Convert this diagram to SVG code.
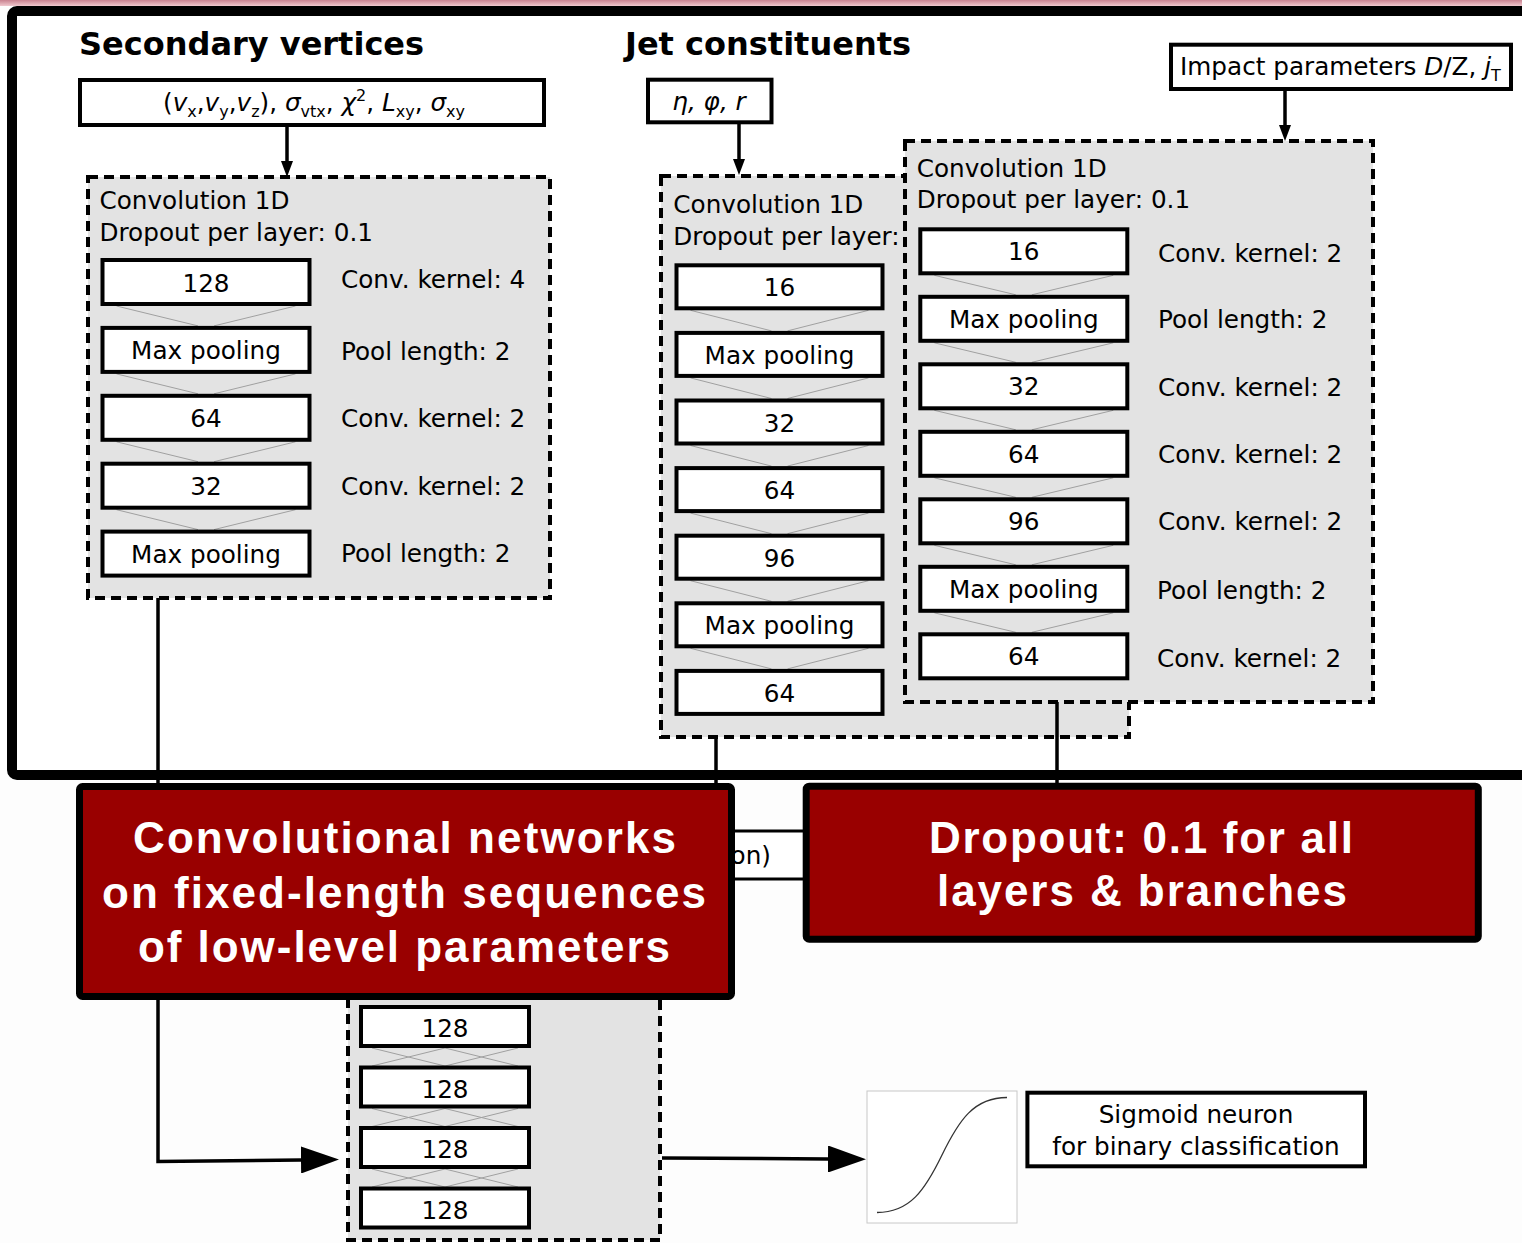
<svg xmlns="http://www.w3.org/2000/svg" width="1522" height="1243" viewBox="0 0 1522 1243">
<defs>
<linearGradient id="pink" x1="0" y1="0" x2="0" y2="1"><stop offset="0" stop-color="#c98290"/><stop offset="1" stop-color="#f0c8ce"/></linearGradient>
<marker id="ahS" markerUnits="userSpaceOnUse" markerWidth="16" markerHeight="12" refX="0" refY="6" orient="auto"><path d="M0,0 L16,6 L0,12 z" fill="#000"/></marker>
<marker id="ahL" markerUnits="userSpaceOnUse" markerWidth="38" markerHeight="27" refX="0" refY="13.5" orient="auto"><path d="M0,0 L38,13.5 L0,27 z" fill="#000"/></marker>
<style>
.t{font-family:"DejaVu Sans",sans-serif;font-size:24.7px;fill:#000}
.c{text-anchor:middle}
.ttl{font-family:"DejaVu Sans",sans-serif;font-weight:bold;font-size:32px;fill:#000}
.box{fill:#fff;stroke:#000;stroke-width:4}
.cont{fill:#e3e3e3;stroke:#000;stroke-width:4;stroke-dasharray:10 6}
.vl{stroke:#a0a0a0;stroke-width:1;fill:none}
.conn{stroke:#000;stroke-width:3.5;fill:none}
.red{fill:#990000;stroke:#000;stroke-width:7}
.rt{font-family:"Liberation Sans",Arial,sans-serif;font-weight:bold;font-size:44px;fill:#fff;text-anchor:middle}
.it{font-style:italic}
</style>
</defs>
<rect x="0" y="0" width="1522" height="1243" fill="#fdfdfd"/>
<rect x="0" y="0" width="1522" height="6" fill="url(#pink)"/>
<g id="frame"><rect x="12" y="11" width="1600" height="764" rx="5" fill="#fff" stroke="#000" stroke-width="10"/></g>

<g id="titles">
<text class="ttl" x="79" y="55">Secondary vertices</text>
<text class="ttl" x="625" y="55">Jet constituents</text>
</g>

<g id="sv-input"><rect class="box" x="80" y="80" width="464" height="45"/>
<text class="t c" x="314" y="111">(<tspan class="it">v</tspan><tspan font-size="16" dy="6">x</tspan><tspan dy="-6">,</tspan><tspan class="it">v</tspan><tspan font-size="16" dy="6">y</tspan><tspan dy="-6">,</tspan><tspan class="it">v</tspan><tspan font-size="16" dy="6">z</tspan><tspan dy="-6">), </tspan><tspan class="it">σ</tspan><tspan font-size="16" dy="6">vtx</tspan><tspan dy="-6">, </tspan><tspan class="it">χ</tspan><tspan font-size="16" dy="-10">2</tspan><tspan dy="10">, </tspan><tspan class="it">L</tspan><tspan font-size="16" dy="6">xy</tspan><tspan dy="-6">, </tspan><tspan class="it">σ</tspan><tspan font-size="16" dy="6">xy</tspan></text></g>

<g id="jet-input"><rect class="box" x="648" y="79.7" width="123.5" height="42.6"/>
<text class="t c it" x="709" y="110">η, φ, r</text></g>

<g id="ip-input"><rect class="box" x="1171" y="44.7" width="340" height="44.3"/>
<text class="t" x="1180" y="75">Impact parameters <tspan class="it">D</tspan>/Z, <tspan class="it">j</tspan><tspan font-size="16" dy="6">T</tspan></text></g>

<!-- Secondary vertices conv block -->
<g id="sv-conv">
<rect class="cont" x="88" y="177" width="462" height="421"/>
<text class="t" x="99.5" y="209">Convolution 1D</text>
<text class="t" x="99.5" y="241">Dropout per layer: 0.1</text>
<path class="vl" d="M116.5,306 L198,325.9 M295.5,306 L214,325.9 M116.5,373.9 L198,393.8 M295.5,373.9 L214,393.8 M116.5,441.8 L198,461.7 M295.5,441.8 L214,461.7 M116.5,509.7 L198,529.6 M295.5,509.7 L214,529.6"/>
<g id="sv-l1"><rect class="box" x="102.5" y="260" width="207" height="44"/><text class="t c" x="206" y="291.5">128</text></g>
<g id="sv-l2"><rect class="box" x="102.5" y="327.9" width="207" height="44"/><text class="t c" x="206" y="359.4">Max pooling</text></g>
<g id="sv-l3"><rect class="box" x="102.5" y="395.8" width="207" height="44"/><text class="t c" x="206" y="427.3">64</text></g>
<g id="sv-l4"><rect class="box" x="102.5" y="463.7" width="207" height="44"/><text class="t c" x="206" y="495.2">32</text></g>
<g id="sv-l5"><rect class="box" x="102.5" y="531.6" width="207" height="44"/><text class="t c" x="206" y="563.1">Max pooling</text></g>
<text class="t" x="341" y="288.3">Conv. kernel: 4</text>
<text class="t" x="341" y="360">Pool length: 2</text>
<text class="t" x="341" y="426.7">Conv. kernel: 2</text>
<text class="t" x="341" y="495">Conv. kernel: 2</text>
<text class="t" x="341" y="561.7">Pool length: 2</text>
</g>

<!-- Jet constituents conv block -->
<g id="jet-conv">
<rect class="cont" x="661" y="176" width="468" height="561"/>
<text class="t" x="673.3" y="213.3">Convolution 1D</text>
<text class="t" x="673.3" y="245">Dropout per layer:</text>
<path class="vl" d="M690.5,310.3 L771.5,330.9 M868.5,310.3 L787.5,330.9 M690.5,377.9 L771.5,398.5 M868.5,377.9 L787.5,398.5 M690.5,445.5 L771.5,466.1 M868.5,445.5 L787.5,466.1 M690.5,513.1 L771.5,533.7 M868.5,513.1 L787.5,533.7 M690.5,580.7 L771.5,601.3 M868.5,580.7 L787.5,601.3 M690.5,648.3 L771.5,668.9 M868.5,648.3 L787.5,668.9"/>
<g id="jet-l1"><rect class="box" x="676.5" y="265.3" width="206" height="43"/><text class="t c" x="779.5" y="296.3">16</text></g>
<g id="jet-l2"><rect class="box" x="676.5" y="332.9" width="206" height="43"/><text class="t c" x="779.5" y="363.9">Max pooling</text></g>
<g id="jet-l3"><rect class="box" x="676.5" y="400.5" width="206" height="43"/><text class="t c" x="779.5" y="431.5">32</text></g>
<g id="jet-l4"><rect class="box" x="676.5" y="468.1" width="206" height="43"/><text class="t c" x="779.5" y="499.1">64</text></g>
<g id="jet-l5"><rect class="box" x="676.5" y="535.7" width="206" height="43"/><text class="t c" x="779.5" y="566.7">96</text></g>
<g id="jet-l6"><rect class="box" x="676.5" y="603.3" width="206" height="43"/><text class="t c" x="779.5" y="634.3">Max pooling</text></g>
<g id="jet-l7"><rect class="box" x="676.5" y="670.9" width="206" height="43"/><text class="t c" x="779.5" y="701.9">64</text></g>
</g>

<!-- Impact parameters conv block -->
<g id="ip-conv">
<rect class="cont" x="905" y="141" width="468" height="561"/>
<text class="t" x="916.7" y="176.7">Convolution 1D</text>
<text class="t" x="916.7" y="208.3">Dropout per layer: 0.1</text>
<path class="vl" d="M934.3,275.3 L1015.8,294.8 M1113.3,275.3 L1031.8,294.8 M934.3,342.8 L1015.8,362.3 M1113.3,342.8 L1031.8,362.3 M934.3,410.3 L1015.8,429.8 M1113.3,410.3 L1031.8,429.8 M934.3,477.8 L1015.8,497.3 M1113.3,477.8 L1031.8,497.3 M934.3,545.3 L1015.8,564.8 M1113.3,545.3 L1031.8,564.8 M934.3,612.8 L1015.8,632.3 M1113.3,612.8 L1031.8,632.3"/>
<g id="ip-l1"><rect class="box" x="920.3" y="229.3" width="207" height="44"/><text class="t c" x="1023.8" y="260.3">16</text></g>
<g id="ip-l2"><rect class="box" x="920.3" y="296.8" width="207" height="44"/><text class="t c" x="1023.8" y="327.8">Max pooling</text></g>
<g id="ip-l3"><rect class="box" x="920.3" y="364.3" width="207" height="44"/><text class="t c" x="1023.8" y="395.3">32</text></g>
<g id="ip-l4"><rect class="box" x="920.3" y="431.8" width="207" height="44"/><text class="t c" x="1023.8" y="462.8">64</text></g>
<g id="ip-l5"><rect class="box" x="920.3" y="499.3" width="207" height="44"/><text class="t c" x="1023.8" y="530.3">96</text></g>
<g id="ip-l6"><rect class="box" x="920.3" y="566.8" width="207" height="44"/><text class="t c" x="1023.8" y="597.8">Max pooling</text></g>
<g id="ip-l7"><rect class="box" x="920.3" y="634.3" width="207" height="44"/><text class="t c" x="1023.8" y="665.3">64</text></g>
<text class="t" x="1158" y="261.7">Conv. kernel: 2</text>
<text class="t" x="1158" y="328.3">Pool length: 2</text>
<text class="t" x="1158" y="396">Conv. kernel: 2</text>
<text class="t" x="1158" y="462.7">Conv. kernel: 2</text>
<text class="t" x="1158" y="530">Conv. kernel: 2</text>
<text class="t" x="1157" y="598.5">Pool length: 2</text>
<text class="t" x="1157" y="666.5">Conv. kernel: 2</text>
</g>

<!-- Dense block -->
<g id="dense">
<rect class="cont" x="348" y="960" width="312" height="280"/>
<path class="vl" d="M372,1048 L445,1066 M445,1048 L372,1066 M445,1048 L518,1066 M518,1048 L445,1066 M372,1108.5 L445,1126.5 M445,1108.5 L372,1126.5 M445,1108.5 L518,1126.5 M518,1108.5 L445,1126.5 M372,1169 L445,1187 M445,1169 L372,1187 M445,1169 L518,1187 M518,1169 L445,1187"/>
<g id="d-l1"><rect class="box" x="361" y="1007" width="168" height="39"/><text class="t c" x="445" y="1037">128</text></g>
<g id="d-l2"><rect class="box" x="361" y="1067.5" width="168" height="39"/><text class="t c" x="445" y="1097.5">128</text></g>
<g id="d-l3"><rect class="box" x="361" y="1128" width="168" height="39"/><text class="t c" x="445" y="1158">128</text></g>
<g id="d-l4"><rect class="box" x="361" y="1188.5" width="168" height="39"/><text class="t c" x="445" y="1218.5">128</text></g>
</g>

<!-- hidden box between red boxes -->
<g id="hidden-box"><rect x="690" y="831" width="170" height="48" fill="#fff" stroke="#000" stroke-width="3"/>
<text class="t" x="771" y="864" text-anchor="end">on)</text></g>

<!-- connectors -->
<g id="connectors">
<path class="conn" d="M287,127 V161" marker-end="url(#ahS)"/>
<path class="conn" d="M739,124 V159" marker-end="url(#ahS)"/>
<path class="conn" d="M1285,89 V125" marker-end="url(#ahS)"/>
<path class="conn" d="M158,598 V1161.5 L301,1160" marker-end="url(#ahL)"/>
<path class="conn" d="M716,737 V800"/>
<path class="conn" d="M1057,702 V800"/>
<path class="conn" d="M662,1158 L828,1159" marker-end="url(#ahL)"/>
</g>

<!-- red annotation boxes -->
<g id="red-conv"><rect class="red" x="79.5" y="786.5" width="652" height="210" rx="3"/>
<text class="rt" x="404.5" y="853.3" textLength="543">Convolutional networks</text>
<text class="rt" x="404" y="907.7" textLength="604">on fixed-length sequences</text>
<text class="rt" x="404" y="961.7" textLength="532">of low-level parameters</text></g>
<g id="red-dropout"><rect class="red" x="806.2" y="786.2" width="672.1" height="153" rx="3"/>
<text class="rt" x="1141" y="853.3" textLength="424">Dropout: 0.1 for all</text>
<text class="rt" x="1142" y="906" textLength="410">layers &amp; branches</text></g>

<!-- sigmoid -->
<g id="sigmoid-plot"><rect x="867" y="1091" width="150" height="132" fill="#fff" stroke="#c8c8c8" stroke-width="1"/>
<path d="M877,1212.5 C910,1212.5 925,1190 942,1155 C959,1120 974,1097.5 1007,1097.5" fill="none" stroke="#333" stroke-width="1.3"/></g>
<g id="sigmoid-label"><rect class="box" x="1027.4" y="1092.7" width="337.6" height="73.6"/>
<text class="t c" x="1196" y="1123.3">Sigmoid neuron</text>
<text class="t c" x="1196" y="1155">for binary classification</text></g>
</svg>
